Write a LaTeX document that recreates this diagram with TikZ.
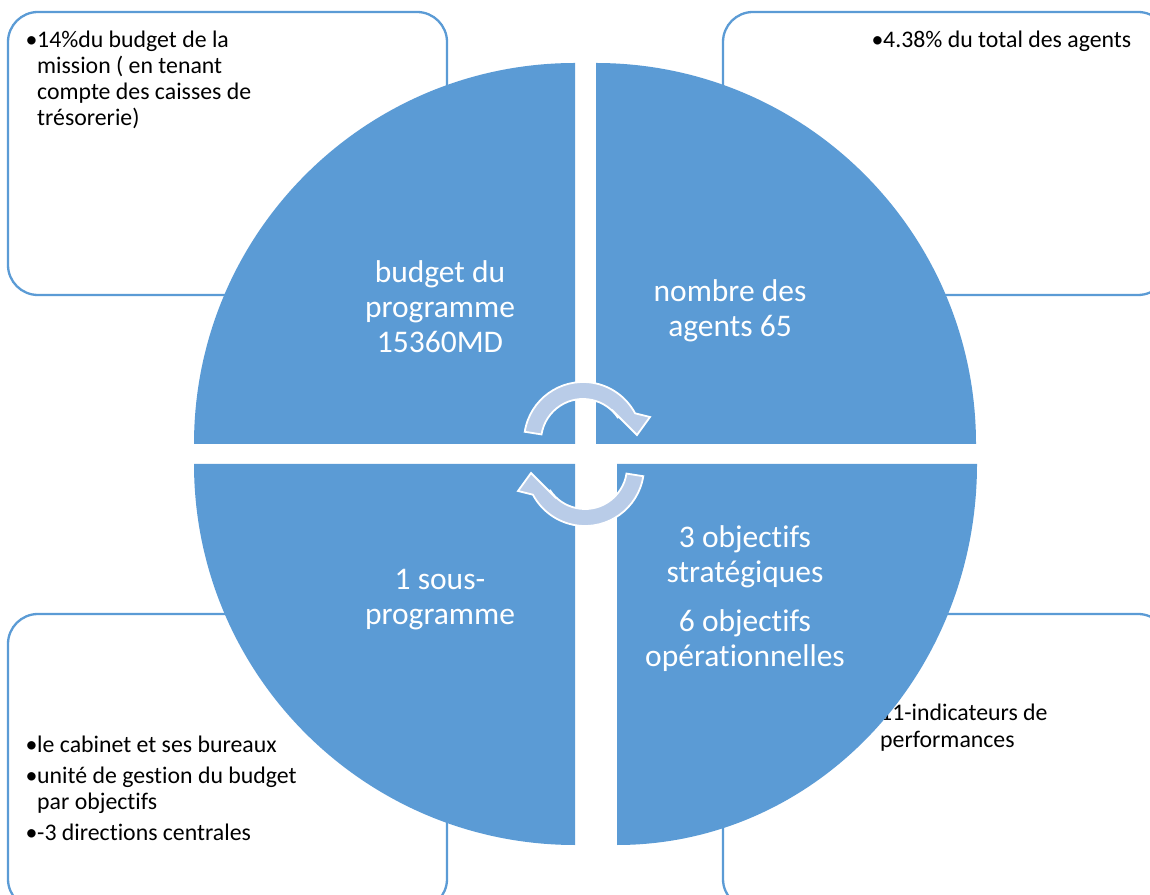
\documentclass[tikz,border=0pt]{standalone}
\usepackage{fontspec}
\setmainfont{Carlito}[Ligatures=NoCommon]
\definecolor{pieblue}{RGB}{91,155,213}
\definecolor{arrowblue}{RGB}{185,204,232}
\begin{document}
\begin{tikzpicture}[x=1pt,y=1pt,
  box/.style={draw=pieblue, line width=2.3pt, rounded corners=30pt, fill=white},
  quad/.style={fill=pieblue},
  qtext/.style={text=white, font=\fontsize{31.5}{35}\selectfont, anchor=base, inner sep=0pt},
  btext/.style={text=black, font=\fontsize{23.8}{26}\selectfont, anchor=base west, inner sep=0pt},
  cyc/.style={fill=arrowblue, draw=white, line width=1.8pt},
  cycarrow/.pic={
    \draw[cyc] (171:59) arc[start angle=171,end angle=28,radius=59pt]
      -- (67,24) -- (54,6) -- (33,27) -- (33:42)
      arc[start angle=33,end angle=171,radius=42pt] -- cycle;
  }]
\useasboundingbox (0,0) rectangle (1150,894);
\clip (0,0) rectangle (1150,894);
% corner boxes
\draw[box] (8,599) rectangle (447,882);
\draw[box] (723,599) rectangle (1168,882);
\draw[box] (8,-15) rectangle (447,280);
\draw[box] (723,-15) rectangle (1168,280);
% box texts
\node[btext] (tl) at (25.5,846) {\begin{tabular}[t]{@{}l@{}}\makebox[11.5pt][l]{•}14\%du budget de la\\ \hspace*{11.5pt}mission ( en tenant\\ \hspace*{11.5pt}compte des caisses de\\ \hspace*{11.5pt}trésorerie)\end{tabular}};
\node[btext] (tr) at (871.5,846) {\makebox[11.5pt][l]{•}4.38\% du total des agents};
\node[btext] (bl) at (25.5,142) {\begin{tabular}[t]{@{}l@{}}\makebox[11.5pt][l]{•}le cabinet et ses bureaux\\[5pt] \makebox[11.5pt][l]{•}unité de gestion du budget\\ \hspace*{11.5pt}par objectifs\\[5pt] \makebox[11.5pt][l]{•}-3 directions centrales\end{tabular}};
\node[btext] (br) at (880,173) {\begin{tabular}[t]{@{}l@{}}11-indicateurs de\\ performances\end{tabular}};
% quadrants
\fill[quad] (575,450) -- (194,450) arc[start angle=180,end angle=90,radius=381pt] -- cycle;
\fill[quad] (596,450) -- (596,831) arc[start angle=90,end angle=0,x radius=380pt,y radius=381pt] -- cycle;
\fill[quad] (575,430) -- (575,49) arc[start angle=270,end angle=180,radius=381pt] -- cycle;
\fill[quad] (617,430) -- (977,430) arc[start angle=0,end angle=-90,x radius=360pt,y radius=381pt] -- cycle;
% quadrant texts
\node[qtext] (q1) at (440,611) {\begin{tabular}[t]{@{}c@{}}budget du\\programme\\15360MD\end{tabular}};
\node[qtext] (q2) at (730,592) {\begin{tabular}[t]{@{}c@{}}nombre des\\agents 65\end{tabular}};
\node[qtext] (q3) at (440,304) {\begin{tabular}[t]{@{}c@{}}1 sous-\\programme\end{tabular}};
\node[qtext] (q4) at (745,346) {\begin{tabular}[t]{@{}c@{}}3 objectifs\\stratégiques\\[14pt]6 objectifs\\opérationnelles\end{tabular}};
% cycle arrows
\pic (arrowtop) at (583,453) {cycarrow};
\pic[rotate=180] (arrowbot) at (585,427) {cycarrow};
\end{tikzpicture}
\end{document}
